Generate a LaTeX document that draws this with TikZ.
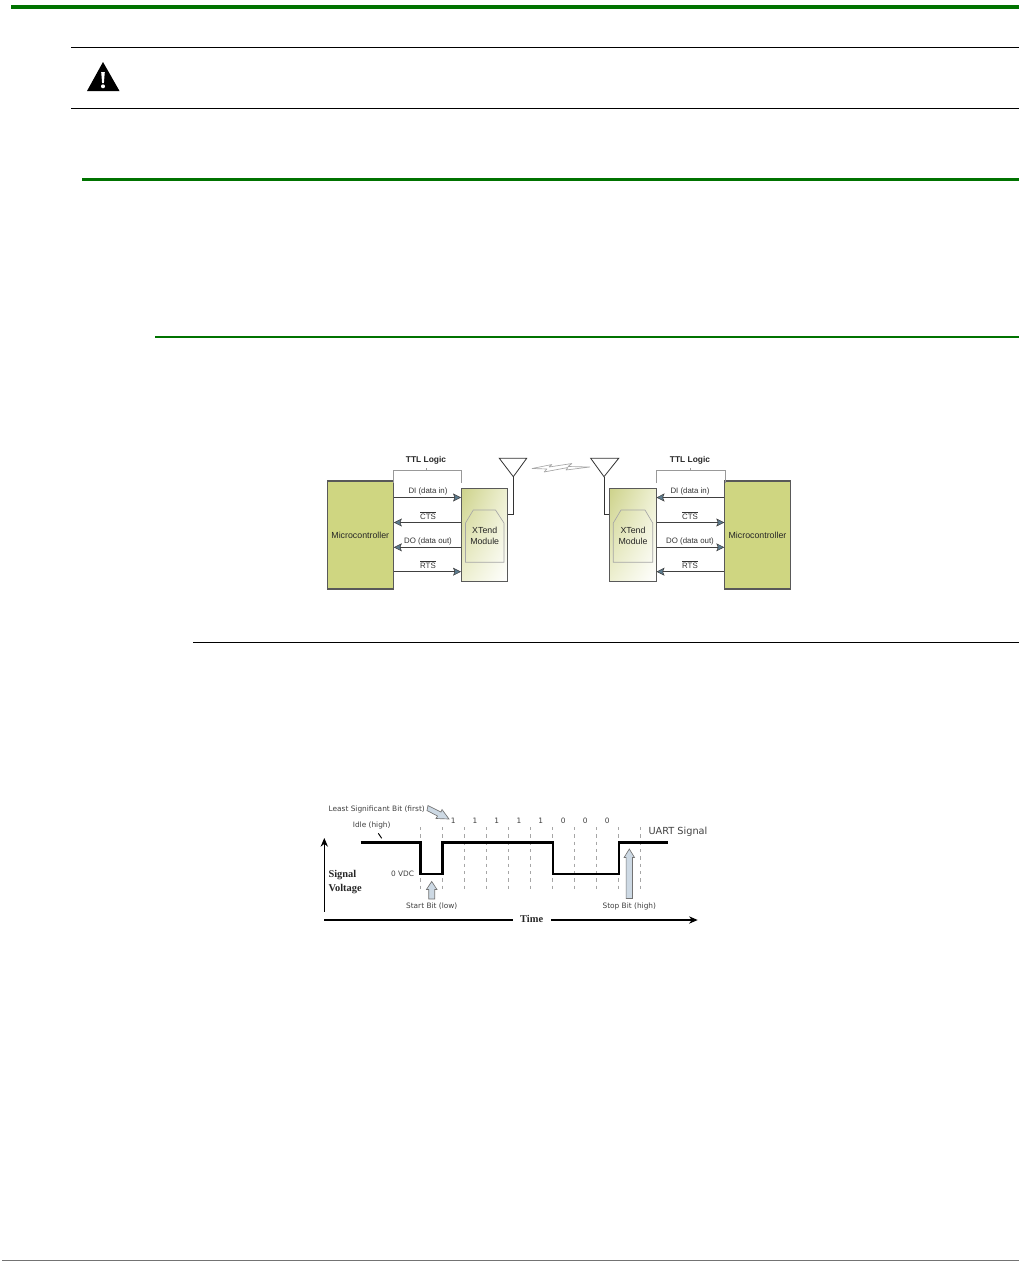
\documentclass[tikz,border=0pt]{standalone}
\usepackage{fontspec}
\setmainfont{Liberation Sans}
\newfontfamily\vfont{DejaVu Sans}
\newfontfamily\sfont{Liberation Serif}
\usetikzlibrary{arrows.meta,shapes.geometric,shadings}
\definecolor{pagegreen}{HTML}{007300}
\definecolor{mcgreen}{HTML}{CFD681}
\definecolor{modgreen}{HTML}{CDD28A}
\definecolor{modlight}{HTML}{EEF0D2}
\definecolor{tipblue}{HTML}{5C7C90}
\definecolor{blockblue}{HTML}{CDD9E4}
\tikzset{
  rulegreen/.style={draw=pagegreen,line width=1.5pt},
  ruleblack/.style={draw=black,line width=0.8pt},
  mcbox/.style={draw=black!65,line width=0.8pt,fill=mcgreen,inner sep=0,minimum width=49.5pt,minimum height=81pt,font=\fontsize{6.6}{8}\selectfont,text=black!85},
  modbox/.style={draw=black!65,line width=0.7pt,inner sep=0,minimum width=34.5pt,minimum height=69.5pt,upper left=modgreen,upper right=modlight,lower left=modlight,lower right=white},
  modshape/.style={draw=black!35,line width=0.5pt},
  modtxt/.style={font=\fontsize{6.6}{8.4}\selectfont,align=center,inner sep=0,text=black!85},
  sig/.style={draw=black!75,line width=0.9pt,-{Stealth[length=6pt,width=6pt,inset=1.2pt,fill=tipblue,line width=0.4pt]}},
  sigtxt/.style={font=\fontsize{5.9}{7}\selectfont,inner sep=0,text=black!80},
  ttl/.style={font=\fontsize{6.3}{8}\selectfont\bfseries,inner sep=0,text=black!85},
  brace/.style={draw=black!40,line width=0.5pt},
  antenna/.style={draw=black!80,line width=0.6pt,fill=white},
  wave/.style={draw=black,line width=1.8pt},
  grid/.style={draw=black!35,line width=0.6pt,dash pattern=on 2.5pt off 3pt},
  axis/.style={draw=black,line width=0.8pt,-{Stealth[length=6.5pt,width=5.5pt]}},
  small/.style={font=\vfont\fontsize{5.55}{7}\selectfont,inner sep=0,text=black!75},
  bold/.style={font=\sfont\bfseries\fontsize{7.8}{9}\selectfont,inner sep=0,text=black!85},
  blockarrow/.style={draw=black!55,line width=0.5pt,fill=blockblue},
}
\begin{document}
\begin{tikzpicture}[x=0.75pt,y=-0.75pt]
\useasboundingbox (0,0) rectangle (1027,1271);
% page rules
\draw[rulegreen,line width=3pt] (11,7) -- (1019,7);
\draw[ruleblack] (71,47.5) -- (1019,47.5);
\draw[ruleblack] (71,108.5) -- (1019,108.5);
\draw[rulegreen,line width=2.2pt] (82,179.3) -- (1019,179.3);
\draw[rulegreen,line width=1.3pt] (155,337) -- (1019,337);
\draw[ruleblack,line width=0.6pt] (193,642.5) -- (1019,642.5);
\draw[draw=black!55,line width=0.8pt] (2,1260.5) -- (1019,1260.5);
% warning icon
\fill[black] (103,62) -- (119.5,91) -- (87,91) -- cycle;
\fill[white] (101.2,72) -- (104.8,72) -- (103.9,83) -- (102.1,83) -- cycle;
\fill[white] (103,86.3) circle (2);

% left link diagram
\node[mcbox] (mcl) at (360.3,535) {Microcontroller};
\node[modbox] (modl) at (484.5,534.7) {};
\draw[modshape] (465.5,523) -- (473.3,510) -- (495.5,510) -- (504,523) -- (504,562.3) -- (465.5,562.3) -- cycle;
\node[modtxt] (labl) at (484.7,536) {XTend\\Module};
\path (modl.west |- 0,497.5) coordinate (la1) (modl.west |- 0,522.5) coordinate (la2) (modl.west |- 0,547.3) coordinate (la3) (modl.west |- 0,571.7) coordinate (la4);
\path (mcl.east |- 0,497.5) coordinate (lb1) (mcl.east |- 0,522.5) coordinate (lb2) (mcl.east |- 0,547.3) coordinate (lb3) (mcl.east |- 0,571.7) coordinate (lb4);
\draw[sig] (lb1) -- (la1);
\draw[sig] (la2) -- (lb2);
\draw[sig] (la3) -- (lb3);
\draw[sig] (lb4) -- (la4);
\node[sigtxt] (lt1) at (428,491) {DI (data in)};
\node[sigtxt] (lt2) at (428,515.3) {$\overline{\mbox{CTS}}$};
\node[sigtxt] (lt3) at (428,541) {DO (data out)};
\node[sigtxt] (lt4) at (428,564.5) {$\overline{\mbox{RTS}}$};
\node[ttl] (ttll) at (426,460) {TTL Logic};
\draw[brace] (393.3,483) -- (393.3,470.5) -- (461,470.5) -- (461,483);
\draw[brace] (426,470.5) -- (426,467.5);
\coordinate (ant1) at (513.3,476.7);
\filldraw[antenna] (499.3,458.3) -- (526.7,458.3) -- (ant1) -- cycle;
\draw[antenna,fill=none] (ant1) -- (513.3,514) -- (modl.east |- 0,514);

% lightning
\draw[draw=black!35,line width=0.5pt,fill=white,line join=bevel] (532,468.5) -- (552,464.5) -- (549,467) -- (572,463.5) -- (568,466.5) -- (590,467) -- (566,470) -- (568,467.5) -- (544,472) -- (547,469) -- cycle;

% right link diagram
\node[mcbox,minimum width=49pt] (mcr) at (757.5,535) {Microcontroller};
\node[modbox,minimum width=35pt] (modr) at (632.7,534.7) {};
\draw[modshape] (613.3,523) -- (621,510) -- (645,510) -- (652.7,523) -- (652.7,562.3) -- (613.3,562.3) -- cycle;
\node[modtxt] (labr) at (633,536) {XTend\\Module};
\path (modr.east |- 0,497.5) coordinate (ra1) (modr.east |- 0,522.5) coordinate (ra2) (modr.east |- 0,547.3) coordinate (ra3) (modr.east |- 0,571.7) coordinate (ra4);
\path (mcr.west |- 0,497.5) coordinate (rb1) (mcr.west |- 0,522.5) coordinate (rb2) (mcr.west |- 0,547.3) coordinate (rb3) (mcr.west |- 0,571.7) coordinate (rb4);
\draw[sig] (rb1) -- (ra1);
\draw[sig] (ra2) -- (rb2);
\draw[sig] (ra3) -- (rb3);
\draw[sig] (rb4) -- (ra4);
\node[sigtxt] (rt1) at (690,491) {DI (data in)};
\node[sigtxt] (rt2) at (690,515.3) {$\overline{\mbox{CTS}}$};
\node[sigtxt] (rt3) at (690,541) {DO (data out)};
\node[sigtxt] (rt4) at (690,564.5) {$\overline{\mbox{RTS}}$};
\node[ttl] (ttlr) at (690,460) {TTL Logic};
\draw[brace] (656.7,483) -- (656.7,470.5) -- (725,470.5) -- (725,483);
\draw[brace] (690,470.5) -- (690,467.5);
\coordinate (ant2) at (604,476.7);
\filldraw[antenna] (590.7,458.3) -- (618.7,458.3) -- (ant2) -- cycle;
\draw[antenna,fill=none] (ant2) -- (604,514) -- (modr.west |- 0,514);

% UART signal
\foreach \x in {420.3,442.3,464.5,486.5,508.3,530.3,552.5,574.3,596,618,640}
  \draw[grid] (\x,827) -- (\x,891);
\draw[wave,line join=miter] (360.7,842.3) -- (420.3,842.3) -- (420.3,874) -- (442.3,874) -- (442.3,842.3) -- (552.7,842.3) -- (552.7,874) -- (619,874) -- (619,842.3) -- (668.3,842.3);
\foreach \x/\b/\n in {453.3/1/a,475/1/b,496.7/1/c,519/1/d,540.7/1/e,563.3/0/f,585.3/0/g,607.3/0/h}
  \node[small] (bit\n) at (\x,820.7) {\b};
\node[small] (lsb) at (376.7,809.3) {Least Significant Bit (first)};
\node[small] (idle) at (371.7,825.7) {Idle (high)};
\draw[black,line width=0.7pt] (378.3,833.3) -- (381.7,838.3);
\node[small] (vdc) at (402.5,874) {0 VDC};
\node[small] (start) at (431.7,906) {Start Bit (low)};
\node[small] (stop) at (629.3,906) {Stop Bit (high)};
\node[small,font=\vfont\fontsize{7.3}{9}\selectfont,anchor=west] (uart) at (648.3,832.3) {UART Signal};
\node[bold,anchor=west] (sv1) at (328.3,875) {Signal};
\node[bold,anchor=west] (sv2) at (328.3,889) {Voltage};
\node[bold] (time) at (531.7,919) {Time};
\coordinate (ya) at (324.3,911.7);
\coordinate (yb) at (324.3,838);
\draw[axis] (ya) -- (yb);
\coordinate (xa) at (324.3,920);
\coordinate (xm) at (513,920);
\coordinate (xc) at (551,920);
\coordinate (xb) at (697.7,920);
\draw[draw=black,line width=0.8pt] (xa) -- (xm);
\draw[axis] (xc) -- (xb);
% block arrows
\filldraw[blockarrow] (428,805.5) -- (441,812) -- (442,809.5) -- (449,819) -- (436,818.5) -- (437.5,816) -- (427,810.5) -- cycle;
\filldraw[blockarrow] (431.7,881.5) -- (437,889.5) -- (434.7,889.5) -- (434.7,899) -- (428.7,899) -- (428.7,889.5) -- (426.4,889.5) -- cycle;
\filldraw[blockarrow] (629.3,849) -- (634.5,857.5) -- (632.5,857.5) -- (632.5,898.5) -- (626.1,898.5) -- (626.1,857.5) -- (624.1,857.5) -- cycle;
\end{tikzpicture}
\end{document}
